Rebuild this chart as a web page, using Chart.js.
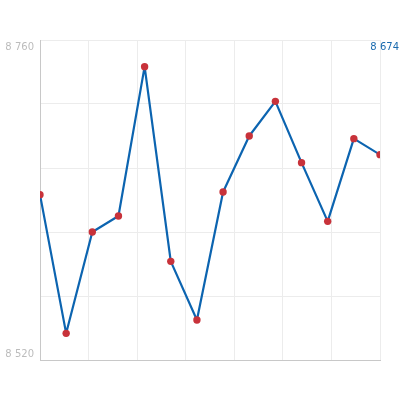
<!DOCTYPE html>
<html>
<head>
<meta charset="utf-8">
<script src="https://cdn.jsdelivr.net/npm/chart.js@4/dist/chart.umd.min.js"></script>
<style>
  html, body { margin: 0; padding: 0; background: #fff; }
  canvas { display: block; }
</style>
</head>
<body>
<canvas id="line-chart" width="420" height="400"></canvas>
<script>
// data
const points = [1, 2, 3, 4, 5, 6, 7, 8, 9, 10, 11, 12, 13, 14];
const values = [8644, 8540, 8616, 8628, 8740, 8594, 8550, 8646, 8688, 8714, 8668, 8624, 8686, 8674];
const yMin = 8520;
const yMax = 8760;
const yStep = 48;
const yLabels = ["8 760", "8 520"];
const lastLabel = "8 674";

// only the top and bottom values get a label, plus the last value at top right
const labelPlugin = {
  id: "labels",
  afterDraw(chart) {
    const ctx = chart.ctx;
    const y = chart.scales.y;
    const area = chart.chartArea;
    ctx.save();
    ctx.font = "10px 'DejaVu Sans'";
    ctx.textAlign = "right";
    ctx.fillStyle = "#bcbcbc";
    ctx.textBaseline = "top";
    ctx.fillText(yLabels[0], area.left - 6, y.getPixelForValue(yMax) + 2);
    ctx.textBaseline = "bottom";
    ctx.fillText(yLabels[1], area.left - 6, y.getPixelForValue(yMin) - 1);
    ctx.fillStyle = "#1a6aae";
    ctx.textBaseline = "top";
    ctx.fillText(lastLabel, area.right + 19, y.getPixelForValue(yMax) + 2);
    ctx.restore();
  },
};

var config = {
  type: "line",
  data: {
    datasets: [
      {
        data: points.map((p, i) => ({ x: p, y: values[i] })),
        borderColor: "#0c64b0",
        borderWidth: 2.2,
        borderJoinStyle: "round",
        pointBackgroundColor: "#c8323a",
        pointBorderColor: "#c8323a",
        pointRadius: 3.7,
        pointBorderWidth: 0,
        tension: 0,
      },
    ],
  },
  options: {
    responsive: false,
    animation: false,
    layout: { padding: { left: 40, right: 40, top: 40, bottom: 40 } },
    plugins: { legend: { display: false }, tooltip: { enabled: false } },
    scales: {
      x: {
        type: "linear",
        min: points[0],
        max: points[points.length - 1],
        afterBuildTicks(scale) {
          const span = scale.max - scale.min;
          scale.ticks = [];
          for (let k = 0; k <= 7; k++) scale.ticks.push({ value: scale.min + (span * k) / 7 });
        },
        ticks: { display: false },
        grid: { color: "#ececec", drawTicks: false },
        border: { color: "#c8c8c8", width: 1 },
      },
      y: {
        min: yMin,
        max: yMax,
        ticks: { display: false, stepSize: yStep },
        grid: { color: "#ececec", drawTicks: false },
        border: { color: "#c8c8c8", width: 1 },
      },
    },
  },
  plugins: [labelPlugin],
};

let ctx = document.getElementById("line-chart").getContext("2d");
window.myLine = new Chart(ctx, config);
</script>
</body>
</html>
